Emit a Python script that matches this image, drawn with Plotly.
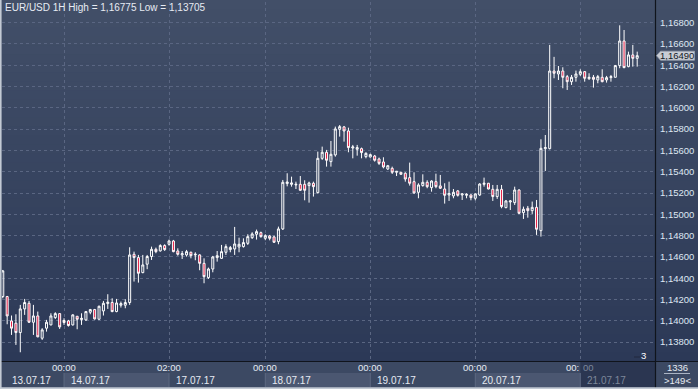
import plotly.graph_objects as go

# ---------------- data (EUR/USD, 1H candles, 13.07.17 10:00 .. 21.07.17 13:00) ----------------
opens = [1.14228, 1.14228, 1.13999, 1.13978, 1.13890, 1.14112, 1.14165, 1.13987, 1.14046, 1.13837,
         1.13931, 1.13962, 1.14031, 1.14068, 1.14003, 1.13999, 1.13962, 1.14043, 1.14012, 1.14009,
         1.14081, 1.14106, 1.14015, 1.14093, 1.14162, 1.14172, 1.14087, 1.14147, 1.14147, 1.14172,
         1.14625, 1.14594, 1.14453, 1.14532, 1.14604, 1.14672, 1.14657, 1.14707, 1.14719, 1.14750,
         1.14656, 1.14619, 1.14619, 1.14644, 1.14619, 1.14619, 1.14540, 1.14406, 1.14487, 1.14594,
         1.14587, 1.14644, 1.14669, 1.14675, 1.14694, 1.14697, 1.14728, 1.14781, 1.14813, 1.14828,
         1.14775, 1.14797, 1.14788, 1.14744, 1.14863, 1.15289, 1.15282, 1.15276, 1.15282, 1.15282,
         1.15270, 1.15292, 1.15204, 1.15526, 1.15583, 1.15495, 1.15558, 1.15799, 1.15821, 1.15783,
         1.15623, 1.15611, 1.15617, 1.15542, 1.15539, 1.15548, 1.15520, 1.15492, 1.15426, 1.15432,
         1.15395, 1.15395, 1.15386, 1.15345, 1.15307, 1.15207, 1.15270, 1.15301, 1.15251, 1.15307,
         1.15267, 1.15238, 1.15182, 1.15173, 1.15220, 1.15182, 1.15179, 1.15182, 1.15151, 1.15182,
         1.15282, 1.15292, 1.15235, 1.15167, 1.15235, 1.15063, 1.15116, 1.15110, 1.15229, 1.15016,
         1.15057, 1.15035, 1.15066, 1.14847, 1.15617, 1.15617, 1.16346, 1.16318, 1.16346, 1.16293,
         1.16246, 1.16287, 1.16315, 1.16340, 1.16274, 1.16287, 1.16262, 1.16287, 1.16262, 1.16284,
         1.16287, 1.16397, 1.16628, 1.16387, 1.16497, 1.16465]
highs = [1.14478, 1.14234, 1.14050, 1.14062, 1.14150, 1.14206, 1.14187, 1.14150, 1.14087, 1.13931,
         1.14009, 1.14071, 1.14081, 1.14071, 1.14024, 1.14009, 1.14062, 1.14046, 1.14071, 1.14093,
         1.14112, 1.14112, 1.14143, 1.14187, 1.14250, 1.14212, 1.14206, 1.14181, 1.14203, 1.14691,
         1.14650, 1.14619, 1.14619, 1.14619, 1.14697, 1.14688, 1.14719, 1.14719, 1.14763, 1.14760,
         1.14681, 1.14656, 1.14666, 1.14650, 1.14644, 1.14625, 1.14587, 1.14500, 1.14610, 1.14656,
         1.14713, 1.14719, 1.14703, 1.14882, 1.14781, 1.14775, 1.14813, 1.14832, 1.14857, 1.14838,
         1.14813, 1.14807, 1.14800, 1.14885, 1.15323, 1.15386, 1.15354, 1.15307, 1.15360, 1.15320,
         1.15307, 1.15307, 1.15589, 1.15636, 1.15605, 1.15689, 1.15824, 1.15839, 1.15830, 1.15814,
         1.15652, 1.15652, 1.15627, 1.15583, 1.15570, 1.15558, 1.15533, 1.15536, 1.15464, 1.15448,
         1.15407, 1.15398, 1.15395, 1.15486, 1.15395, 1.15292, 1.15376, 1.15320, 1.15320, 1.15382,
         1.15370, 1.15292, 1.15307, 1.15238, 1.15229, 1.15198, 1.15198, 1.15188, 1.15198, 1.15292,
         1.15345, 1.15295, 1.15276, 1.15276, 1.15276, 1.15135, 1.15135, 1.15260, 1.15235, 1.15073,
         1.15079, 1.15120, 1.15135, 1.15705, 1.15745, 1.16591, 1.16479, 1.16393, 1.16381, 1.16309,
         1.16309, 1.16350, 1.16362, 1.16346, 1.16325, 1.16309, 1.16309, 1.16362, 1.16300, 1.16309,
         1.16403, 1.16775, 1.16731, 1.16528, 1.16591, 1.16528]
lows = [1.14212, 1.13968, 1.13868, 1.13774, 1.13705, 1.14056, 1.13980, 1.13868, 1.13846, 1.13821,
        1.13899, 1.13958, 1.14018, 1.13924, 1.13962, 1.13946, 1.13956, 1.13921, 1.13962, 1.13999,
        1.14062, 1.14012, 1.14012, 1.14050, 1.14112, 1.14081, 1.14081, 1.14125, 1.14118, 1.14150,
        1.14369, 1.14359, 1.14447, 1.14485, 1.14572, 1.14635, 1.14650, 1.14657, 1.14706, 1.14644,
        1.14612, 1.14581, 1.14603, 1.14587, 1.14569, 1.14475, 1.14353, 1.14393, 1.14456, 1.14556,
        1.14581, 1.14619, 1.14644, 1.14619, 1.14644, 1.14688, 1.14713, 1.14769, 1.14763, 1.14781,
        1.14757, 1.14756, 1.14731, 1.14719, 1.14853, 1.15263, 1.15260, 1.15238, 1.15220, 1.15132,
        1.15110, 1.15167, 1.15195, 1.15511, 1.15448, 1.15448, 1.15542, 1.15730, 1.15683, 1.15583,
        1.15526, 1.15551, 1.15526, 1.15526, 1.15533, 1.15495, 1.15464, 1.15432, 1.15417, 1.15379,
        1.15360, 1.15373, 1.15307, 1.15270, 1.15192, 1.15151, 1.15260, 1.15245, 1.15213, 1.15245,
        1.15238, 1.15101, 1.15126, 1.15151, 1.15167, 1.15135, 1.15151, 1.15132, 1.15132, 1.15173,
        1.15260, 1.15235, 1.15126, 1.15145, 1.15057, 1.15057, 1.15041, 1.15088, 1.15004, 1.14957,
        1.14969, 1.15004, 1.14807, 1.14791, 1.15407, 1.15610, 1.16278, 1.16262, 1.16184, 1.16168,
        1.16215, 1.16246, 1.16300, 1.16246, 1.16262, 1.16190, 1.16231, 1.16240, 1.16237, 1.16246,
        1.16287, 1.16372, 1.16372, 1.16381, 1.16387, 1.16387]
closes = [1.14469, 1.14046, 1.13931, 1.13890, 1.14112, 1.14172, 1.13987, 1.14046, 1.13850, 1.13915,
          1.13987, 1.14046, 1.14068, 1.13943, 1.13984, 1.13956, 1.14056, 1.14015, 1.14024, 1.14087,
          1.14106, 1.14018, 1.14137, 1.14165, 1.14175, 1.14087, 1.14168, 1.14162, 1.14172, 1.14619,
          1.14594, 1.14447, 1.14525, 1.14604, 1.14672, 1.14650, 1.14707, 1.14669, 1.14750, 1.14650,
          1.14625, 1.14631, 1.14650, 1.14612, 1.14625, 1.14540, 1.14415, 1.14487, 1.14600, 1.14612,
          1.14650, 1.14697, 1.14688, 1.14722, 1.14719, 1.14735, 1.14791, 1.14816, 1.14838, 1.14791,
          1.14800, 1.14775, 1.14738, 1.14863, 1.15301, 1.15304, 1.15295, 1.15282, 1.15226, 1.15226,
          1.15295, 1.15260, 1.15526, 1.15583, 1.15508, 1.15564, 1.15802, 1.15824, 1.15783, 1.15627,
          1.15633, 1.15627, 1.15580, 1.15573, 1.15561, 1.15508, 1.15479, 1.15445, 1.15457, 1.15395,
          1.15404, 1.15376, 1.15332, 1.15292, 1.15201, 1.15276, 1.15301, 1.15260, 1.15313, 1.15260,
          1.15245, 1.15179, 1.15195, 1.15207, 1.15179, 1.15192, 1.15188, 1.15157, 1.15192, 1.15285,
          1.15292, 1.15238, 1.15167, 1.15235, 1.15073, 1.15126, 1.15126, 1.15229, 1.15010, 1.15048,
          1.15035, 1.15066, 1.14860, 1.15620, 1.15627, 1.16346, 1.16325, 1.16346, 1.16287, 1.16246,
          1.16287, 1.16318, 1.16340, 1.16278, 1.16287, 1.16268, 1.16293, 1.16246, 1.16284, 1.16293,
          1.16397, 1.16628, 1.16378, 1.16497, 1.16465, 1.16490]

bar_index = list(range(len(closes)))
day_start_index = [14, 38, 60, 84, 108, 132]
day_start_labels = ["00:00", "02:00", "00:00", "00:00", "00:00", "00:00"]
date_labels = ["13.07.17", "14.07.17", "17.07.17", "18.07.17", "19.07.17", "20.07.17", "21.07.17"]
price_ticks = [1.138 + 0.002 * k for k in range(16)]
title_text = "EUR/USD 1H High = 1,16775 Low = 1,13705"
last_price_text = "1,16490"
corner_top, corner_bottom = "1336", ">149<"

# ---------------- layout geometry ----------------
W, H = 698, 389
ML, MR, MT, MB = 2, 43, 2, 28
PW, PH = W - ML - MR, H - MT - MB
FONT = "Liberation Sans, Arial, sans-serif"


def px(x):
    return (x - ML) / PW


def py(y):
    return (H - MB - y) / PH


def mix(c1, c2, t):
    return "rgb(%d,%d,%d)" % tuple(round(a + (b - a) * t) for a, b in zip(c1, c2))


shapes = []
# vertical gradient background for plot + right panel
top_c, bot_c = (66, 79, 104), (44, 57, 87)
n = 40
for k in range(n):
    y0 = 361 * k / n
    y1 = 361 * (k + 1) / n
    shapes.append(dict(type="rect", xref="paper", yref="paper", x0=px(0), x1=px(W),
                       y0=py(y1 + 0.5), y1=py(y0), fillcolor=mix(top_c, bot_c, (k + 0.5) / n),
                       line=dict(width=0), layer="below"))
# bottom axis strip
shapes.append(dict(type="rect", xref="paper", yref="paper", x0=px(0), x1=px(W), y0=py(H), y1=py(361),
                   fillcolor="#3c4963", line=dict(width=0), layer="below"))

fig = go.Figure()
fig.add_trace(go.Candlestick(
    x=bar_index, open=opens, high=highs, low=lows, close=closes,
    increasing=dict(line=dict(color="#ffffff", width=1), fillcolor="rgba(0,0,0,0)"),
    decreasing=dict(line=dict(color="#ffffff", width=1), fillcolor="#e4173f"),
    whiskerwidth=0, showlegend=False, hoverinfo="skip",
))

xr = [-0.18, 149.07]


def xpix(i):
    return ML + (i - xr[0]) / (xr[1] - xr[0]) * PW


box_fills = ["#3c4963", "#4b5771", "#3c4963", "#4b5771", "#3c4963", "#4b5771", "#2b3651"]
grid_px = [xpix(i) for i in day_start_index]
edges = [2] + grid_px + [655]
for k in range(len(date_labels)):
    shapes.append(dict(type="rect", xref="paper", yref="paper", x0=px(edges[k]), x1=px(edges[k + 1]),
                       y0=py(387), y1=py(373), fillcolor=box_fills[k], line=dict(width=0), layer="below"))
    if k > 0:
        shapes.append(dict(type="line", xref="paper", yref="paper", x0=px(edges[k]), x1=px(edges[k]),
                           y0=py(387), y1=py(373), line=dict(color="#5d6982", width=1), layer="below"))
# dark overlay for the current day in the time row
shapes.append(dict(type="rect", xref="paper", yref="paper", x0=px(grid_px[-1]), x1=px(655),
                   y0=py(373), y1=py(361.5), fillcolor="#2b3651", line=dict(width=0), layer="below"))

# frame lines
shapes.append(dict(type="line", xref="paper", yref="paper", x0=px(0), x1=px(W), y0=py(361.5), y1=py(361.5),
                   line=dict(color="#10141c", width=1.2), layer="above"))
shapes.append(dict(type="line", xref="paper", yref="paper", x0=px(655.5), x1=px(655.5), y0=py(H), y1=py(0),
                   line=dict(color="#10141c", width=1.2), layer="above"))
shapes.append(dict(type="rect", xref="paper", yref="paper", x0=px(0), x1=px(1.6), y0=py(H), y1=py(0),
                   fillcolor="#c3cad4", line=dict(width=0), layer="above"))
shapes.append(dict(type="rect", xref="paper", yref="paper", x0=px(0), x1=px(W), y0=py(H), y1=py(387.3),
                   fillcolor="#c3cad4", line=dict(width=0), layer="above"))
# corner separator
shapes.append(dict(type="line", xref="paper", yref="paper", x0=px(664), x1=px(690), y0=py(373.5), y1=py(373.5),
                   line=dict(color="#aab4c4", width=1), layer="above"))
# small marker before the "3"
shapes.append(dict(type="line", xref="paper", yref="paper", x0=px(634), x1=px(640), y0=py(357), y1=py(357),
                   line=dict(color="#26304a", width=2), layer="above"))
# last price pointer box
lp = closes[-1]
hh = 0.00042
shapes.append(dict(type="path", xref="paper", yref="y",
                   path="M %f,%f L %f,%f L %f,%f L %f,%f L %f,%f Z" % (
                       px(656.5), lp, px(660.5), lp + hh, px(694.5), lp + hh, px(694.5), lp - hh, px(660.5), lp - hh),
                   fillcolor="#c9cdd5", line=dict(color="#9aa3b0", width=0.8), layer="above"))

annotations = []
annotations.append(dict(text=title_text, xref="paper", yref="paper", x=px(3), y=py(8), xanchor="left",
                        yanchor="middle", showarrow=False, font=dict(family=FONT, size=10, color="#e6ebf3")))
for k, lab in enumerate(day_start_labels):
    if k < len(day_start_labels) - 1:
        annotations.append(dict(text=lab, xref="paper", yref="paper", x=px(grid_px[k]), y=py(367.5),
                                xanchor="center", yanchor="middle", showarrow=False,
                                font=dict(family=FONT, size=9.5, color="#e6ebf3")))
    else:
        annotations.append(dict(text=lab[:3], xref="paper", yref="paper", x=px(grid_px[k] + 0.5), y=py(367.5),
                                xanchor="right", yanchor="middle", showarrow=False,
                                font=dict(family=FONT, size=9.5, color="#e6ebf3")))
        annotations.append(dict(text=lab[3:], xref="paper", yref="paper", x=px(grid_px[k] + 0.5), y=py(367.5),
                                xanchor="left", yanchor="middle", showarrow=False,
                                font=dict(family=FONT, size=9.5, color="#7d879a")))
date_x = [10] + [g + 5 for g in grid_px]
for k, lab in enumerate(date_labels):
    annotations.append(dict(text=lab, xref="paper", yref="paper", x=px(date_x[k]), y=py(380),
                            xanchor="left", yanchor="middle", showarrow=False,
                            font=dict(family=FONT, size=10,
                                      color="#e6ebf3" if k < len(date_labels) - 1 else "#7d879a")))
annotations.append(dict(text="3", xref="paper", yref="paper", x=px(648), y=py(355), xanchor="right",
                        yanchor="middle", showarrow=False, font=dict(family=FONT, size=9.5, color="#ffffff")))
annotations.append(dict(text=corner_top, xref="paper", yref="paper", x=px(677), y=py(367), xanchor="center",
                        yanchor="middle", showarrow=False, font=dict(family=FONT, size=9.5, color="#e6ebf3")))
annotations.append(dict(text=corner_bottom, xref="paper", yref="paper", x=px(677), y=py(380), xanchor="center",
                        yanchor="middle", showarrow=False, font=dict(family=FONT, size=9.5, color="#e6ebf3")))
annotations.append(dict(text=last_price_text, xref="paper", yref="y", x=px(677.5), y=lp, xanchor="center",
                        yanchor="middle", showarrow=False, font=dict(family=FONT, size=9.5, color="#141a26")))

fig.update_layout(
    width=W, height=H, margin=dict(l=ML, r=MR, t=MT, b=MB, pad=0),
    paper_bgcolor="#3c4963", plot_bgcolor="rgba(0,0,0,0)",
    separators=", ", boxgap=0.35, showlegend=False,
    shapes=shapes, annotations=annotations,
    xaxis=dict(range=xr, tickvals=day_start_index, showticklabels=False, ticks="",
               showgrid=True, gridcolor="#5a6682", griddash="3px,3px", gridwidth=1,
               zeroline=False, showline=False, rangeslider=dict(visible=False), fixedrange=True),
    yaxis=dict(range=[1.13623, 1.16994], side="right", tickvals=price_ticks, tickformat=".5f",
               ticks="", ticklabelstandoff=4, tickfont=dict(family=FONT, size=9.5, color="#dfe7f3"),
               showgrid=True, gridcolor="#5a6682", griddash="3px,3px", gridwidth=1,
               zeroline=False, showline=False, fixedrange=True),
)
fig.write_html("out.html", config={"displayModeBar": False},
               post_script="document.body.style.margin='0';document.body.style.overflow='hidden';")
